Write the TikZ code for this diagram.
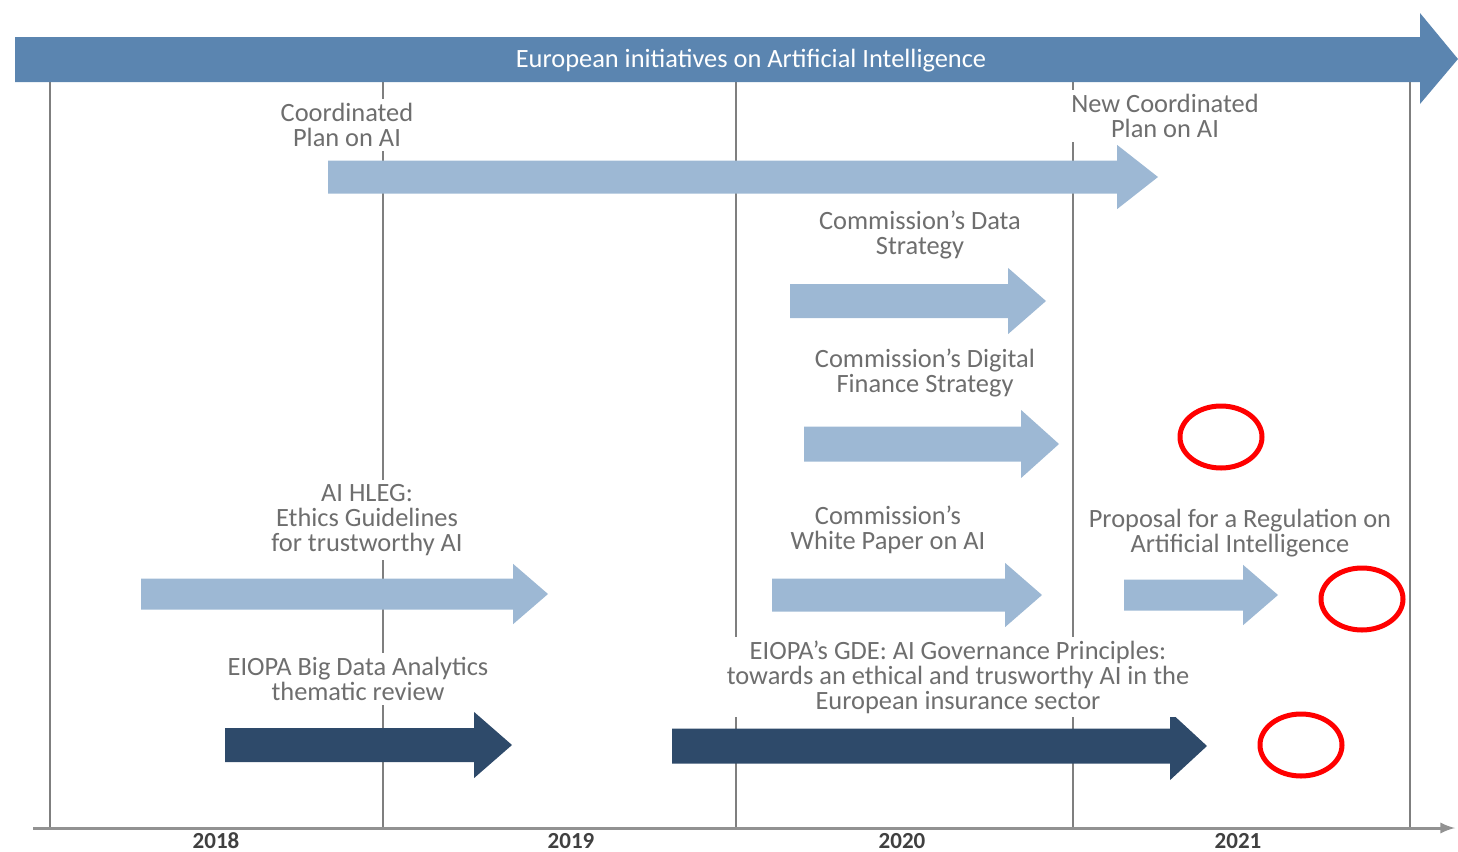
\documentclass[tikz,border=0pt]{standalone}
\usepackage{fontspec}
\setmainfont{Carlito}
\usepackage{tikz}
\usetikzlibrary{shapes,arrows,positioning}
\definecolor{banner}{HTML}{5B85B0}
\definecolor{lightarrow}{HTML}{9DB8D4}
\definecolor{darkarrow}{HTML}{2E4A6A}
\definecolor{labelgray}{HTML}{6E6E6E}
\definecolor{gridgray}{HTML}{7F7F7F}
\tikzstyle{etiqueta} = [fill=white, text=labelgray, align=center, inner sep=2pt, font=\fontsize{13.2}{12.5}\selectfont]
\tikzstyle{anio} = [text=black!75, font=\fontsize{11.5}{11.5}\selectfont\bfseries, inner sep=0pt]
\tikzstyle{reja} = [draw=gridgray, line width=1pt]
\tikzstyle{anillo} = [draw=red, line width=2.5pt]
% #1 colour, #2 start x, #3 neck x, #4 tip x, #5 centre y, #6 half body
\newcommand{\flecha}[6]{%
	\fill[#1] (#2,{#5-#6}) -- (#3,{#5-#6}) -- (#3,{#5-1.95*#6}) -- (#4,#5) -- (#3,{#5+1.95*#6}) -- (#3,{#5+#6}) -- (#2,{#5+#6}) -- cycle;}

\begin{document}
\begin{tikzpicture}[x=0.5pt, y=-0.5pt]
					\useasboundingbox (0,0) rectangle (1458,852);
					% grid of years
					\foreach \x in {50,383,736,1073,1410}
						\draw[reja] (\x,82) -- (\x,828);
					\draw[draw=gridgray!85, line width=1.5pt, -latex] (33,828) -- (1455,828);
					% banner
					\fill[banner] (15,37) -- (1420,37) -- (1420,13) -- (1458,59) -- (1420,104) -- (1420,82) -- (15,82) -- cycle;
					\node[text=white, font=\fontsize{13.2}{12.5}\selectfont] (titulo) at (751,61) {European initiatives on Artificial Intelligence};
					% arrows
					\flecha{lightarrow}{328}{1117}{1158}{177}{16.5}
					\flecha{lightarrow}{790}{1008}{1046}{301}{17}
					\flecha{lightarrow}{804}{1021}{1059}{444}{17.5}
					\flecha{lightarrow}{141}{513}{548}{594}{15.5}
					\flecha{lightarrow}{772}{1005}{1042}{595}{16.5}
					\flecha{lightarrow}{1124}{1243}{1278}{595}{15.5}
					\flecha{darkarrow}{225}{474}{512}{745}{17}
					\flecha{darkarrow}{672}{1170}{1207}{746}{17.5}
					% labels
					\node[etiqueta] (plan) at (347,125) {Coordinated\\Plan on AI};
					\node[etiqueta] (newplan) at (1165,116) {New Coordinated\\Plan on AI};
					\node[etiqueta] (data) at (920,235) {Commission's Data\\Strategy};
					\node[etiqueta] (finance) at (925,373) {Commission's Digital\\Finance Strategy};
					\node[etiqueta] (hleg) at (367,520) {AI HLEG:\\Ethics Guidelines\\for trustworthy AI};
					\node[etiqueta] (paper) at (888,530) {Commission's\\White Paper on AI};
					\node[etiqueta] (proposal) at (1240,533) {Proposal for a Regulation on\\Artificial Intelligence};
					\node[etiqueta] (bigdata) at (358,679) {EIOPA Big Data Analytics\\thematic review};
					\node[etiqueta] (gde) at (958,677) {EIOPA's GDE: AI Governance Principles:\\towards an ethical and trusworthy AI in the\\European insurance sector};
					% years
					\node[anio] (y2018) at (216,841) {2018};
					\node[anio] (y2019) at (571,841) {2019};
					\node[anio] (y2020) at (902,841) {2020};
					\node[anio] (y2021) at (1238,841) {2021};
					% marks
					\draw[anillo] (1221,437) ellipse [x radius=41, y radius=31];
					\draw[anillo] (1362,599) ellipse [x radius=41, y radius=31];
					\draw[anillo] (1301,745) ellipse [x radius=41, y radius=31];
\end{tikzpicture}
\end{document}
